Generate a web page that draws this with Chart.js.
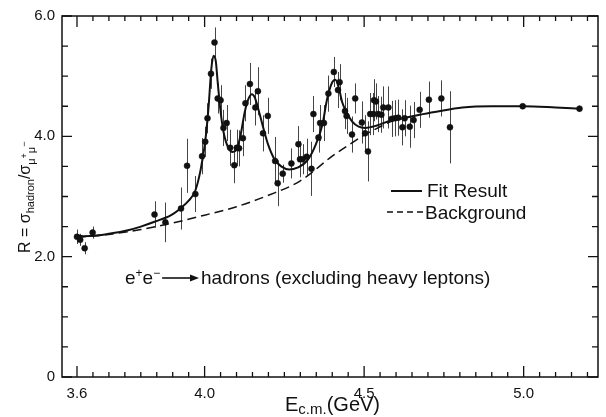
<!DOCTYPE html>
<html>
<head>
  <title>R ratio vs E c.m.</title>
  <style>
    html, body { margin: 0; padding: 0; background: #fff; }
    #wrap { width: 606px; height: 417px; }
  </style>
</head>
<body>
  <div id="wrap"><canvas id="rChart" width="606" height="417"></canvas></div>

  <script src="https://cdn.jsdelivr.net/npm/chart.js"></script>
  <script>
    const dataE = [3.600, 3.610, 3.624, 3.649, 3.843, 3.877, 3.926, 3.945, 3.971, 3.992,
                   4.002, 4.009, 4.020, 4.031, 4.041, 4.050, 4.059, 4.069, 4.080, 4.093,
                   4.101, 4.108, 4.120, 4.128, 4.142, 4.159, 4.167, 4.183, 4.198, 4.221,
                   4.229, 4.245, 4.272, 4.294, 4.299, 4.307, 4.320, 4.335, 4.341, 4.357,
                   4.362, 4.374, 4.388, 4.405, 4.418, 4.423, 4.440, 4.445, 4.462, 4.472,
                   4.493, 4.503, 4.512, 4.519, 4.529, 4.531, 4.537, 4.544, 4.554, 4.560,
                   4.576, 4.586, 4.597, 4.607, 4.620, 4.627, 4.643, 4.655, 4.674, 4.703,
                   4.742, 4.769, 4.997, 5.175];
    const dataR = [2.33, 2.28, 2.14, 2.40, 2.70, 2.57, 2.80, 3.51, 3.04, 3.67,
                   3.91, 4.30, 5.04, 5.56, 4.63, 4.60, 4.14, 4.22, 3.81, 3.52,
                   3.81, 3.80, 3.97, 4.55, 4.87, 4.48, 4.75, 4.05, 4.34, 3.59,
                   3.22, 3.38, 3.55, 3.87, 3.62, 3.62, 3.66, 3.46, 4.37, 3.98,
                   4.22, 4.22, 4.71, 5.07, 4.77, 4.90, 4.42, 4.34, 4.03, 4.63,
                   4.23, 4.05, 3.75, 4.37, 4.37, 4.60, 4.58, 4.37, 4.36, 4.48,
                   4.48, 4.29, 4.30, 4.31, 4.15, 4.30, 4.16, 4.27, 4.44, 4.61,
                   4.63, 4.15, 4.50, 4.46];
    const dataErr = [0.12, 0.10, 0.10, 0.10, 0.22, 0.33, 0.35, 0.45, 0.30, 0.30,
                     0.25, 0.25, 0.25, 0.25, 0.25, 0.25, 0.30, 0.30, 0.30, 0.30,
                     0.30, 0.30, 0.30, 0.30, 0.35, 0.30, 0.40, 0.30, 0.30, 0.40,
                     0.38, 0.15, 0.25, 0.30, 0.30, 0.25, 0.30, 0.45, 0.30, 0.25,
                     0.30, 0.30, 0.30, 0.25, 0.30, 0.30, 0.30, 0.30, 0.30, 0.25,
                     0.35, 0.30, 0.50, 0.35, 0.35, 0.35, 0.30, 0.30, 0.30, 0.35,
                     0.35, 0.30, 0.30, 0.30, 0.30, 0.30, 0.35, 0.30, 0.30, 0.30,
                     0.30, 0.60, 0.03, 0.05];

    // fit result curve
    const fitE = [3.595, 3.62, 3.66, 3.70, 3.76, 3.80, 3.843, 3.895, 3.926, 3.95,
                  3.971, 3.987, 4.002, 4.012, 4.021, 4.028, 4.035, 4.041, 4.049, 4.059,
                  4.074, 4.088, 4.100, 4.112, 4.126, 4.138, 4.148, 4.157, 4.167, 4.183,
                  4.198, 4.219, 4.240, 4.265, 4.291, 4.322, 4.348, 4.369, 4.384, 4.400,
                  4.410, 4.421, 4.431, 4.447, 4.462, 4.483, 4.503, 4.540, 4.581, 4.622,
                  4.674, 4.726, 4.808, 4.90, 5.00, 5.10, 5.175];
    const fitR = [2.36, 2.34, 2.35, 2.38, 2.44, 2.50, 2.58, 2.69, 2.81, 2.93,
                  3.10, 3.43, 3.92, 4.46, 5.12, 5.34, 5.25, 4.90, 4.46, 4.08,
                  3.81, 3.74, 3.78, 4.00, 4.41, 4.63, 4.70, 4.65, 4.48, 4.16,
                  3.88, 3.62, 3.50, 3.45, 3.48, 3.60, 3.86, 4.19, 4.62, 4.90,
                  4.94, 4.80, 4.57, 4.38, 4.25, 4.16, 4.14, 4.18, 4.26, 4.30,
                  4.36, 4.41, 4.48, 4.50, 4.50, 4.48, 4.46];

    // background curve
    const bgE = [3.60, 3.70, 3.80, 3.90, 4.00, 4.10, 4.20, 4.30, 4.40, 4.45, 4.50, 4.55, 4.60];
    const bgR = [2.32, 2.37, 2.45, 2.56, 2.69, 2.83, 3.02, 3.26, 3.67, 3.85, 4.02, 4.16, 4.29];

    const xTickLabels = [3.6, 4.0, 4.5, 5.0];
    const yTickLabels = [0, 2.0, 4.0, 6.0];

    const INK = '#111';
    const FONT = "'Liberation Sans', Arial, sans-serif";

    // frame with inward ticks on all four sides
    const frameTicks = {
      id: 'frameTicks',
      afterDraw(chart) {
        const { ctx, chartArea: a, scales: { x, y } } = chart;
        ctx.save();
        ctx.strokeStyle = INK;
        ctx.lineWidth = 1.5;
        ctx.strokeRect(a.left, a.top, a.right - a.left, a.bottom - a.top);
        ctx.lineWidth = 1.3;
        ctx.beginPath();
        for (let v = 3.55; v <= 5.24; v += 0.05) {
          const val = Math.round(v * 100) / 100;
          const px = x.getPixelForValue(val);
          if (px < a.left || px > a.right) continue;
          const major = xTickLabels.some(t => Math.abs(t - val) < 1e-6);
          const len = major ? 11 : 5;
          ctx.moveTo(px, a.bottom); ctx.lineTo(px, a.bottom - len);
          ctx.moveTo(px, a.top); ctx.lineTo(px, a.top + len);
        }
        for (let v = 0; v <= 6.001; v += 0.5) {
          const py = y.getPixelForValue(v);
          const major = Math.abs(v % 2) < 1e-6;
          const len = major ? 10 : 6;
          ctx.moveTo(a.left, py); ctx.lineTo(a.left + len, py);
          ctx.moveTo(a.right, py); ctx.lineTo(a.right - len, py);
        }
        ctx.stroke();
        ctx.restore();
      }
    };

    // vertical error bars for the measured points
    const errorBars = {
      id: 'errorBars',
      beforeDatasetsDraw(chart) {
        const { ctx, scales: { x, y } } = chart;
        ctx.save();
        ctx.strokeStyle = '#444';
        ctx.lineWidth = 1;
        ctx.beginPath();
        dataE.forEach((e, i) => {
          const px = Math.round(x.getPixelForValue(e)) + 0.5;
          ctx.moveTo(px, y.getPixelForValue(dataR[i] - dataErr[i]));
          ctx.lineTo(px, y.getPixelForValue(dataR[i] + dataErr[i]));
        });
        ctx.stroke();
        ctx.restore();
      }
    };

    // helper: draws a run of text pieces with size / baseline shift
    function drawRun(ctx, x, y, parts) {
      let cx = x;
      parts.forEach(p => {
        ctx.font = p.size + 'px ' + FONT;
        ctx.fillText(p.t, cx, y + (p.dy || 0));
        cx += ctx.measureText(p.t).width + (p.gap || 0);
      });
      return cx;
    }

    const textLayer = {
      id: 'textLayer',
      afterDraw(chart) {
        const { ctx } = chart;
        ctx.save();
        ctx.fillStyle = INK;
        ctx.strokeStyle = INK;
        ctx.textBaseline = 'alphabetic';
        ctx.textAlign = 'left';

        // legend
        ctx.lineWidth = 2;
        ctx.beginPath(); ctx.moveTo(391, 191); ctx.lineTo(422, 191); ctx.stroke();
        ctx.lineWidth = 1.5;
        ctx.setLineDash([6, 4]);
        ctx.beginPath(); ctx.moveTo(387, 212); ctx.lineTo(423, 212); ctx.stroke();
        ctx.setLineDash([]);
        drawRun(ctx, 427, 197, [{ t: 'Fit Result', size: 19 }]);
        drawRun(ctx, 425, 219, [{ t: 'Background', size: 19 }]);

        // reaction label
        let cx = drawRun(ctx, 125, 284, [
          { t: 'e', size: 19 }, { t: '+', size: 12, dy: -7 },
          { t: 'e', size: 19 }, { t: '\u2212', size: 12, dy: -7 }
        ]);
        ctx.lineWidth = 1.6;
        ctx.beginPath(); ctx.moveTo(cx + 2, 278); ctx.lineTo(193, 278); ctx.stroke();
        ctx.beginPath(); ctx.moveTo(199, 278); ctx.lineTo(190, 274.5); ctx.lineTo(190, 281.5); ctx.closePath(); ctx.fill();
        drawRun(ctx, 201, 284, [{ t: 'hadrons (excluding heavy leptons)', size: 19 }]);

        // x axis title
        drawRun(ctx, 285, 411, [
          { t: 'E', size: 20 }, { t: 'c.m.', size: 15, dy: 3 }, { t: '(GeV)', size: 20 }
        ]);

        // y axis title (rotated)
        ctx.translate(30, 253);
        ctx.rotate(-Math.PI / 2);
        drawRun(ctx, 0, 0, [
          { t: 'R = \u03c3', size: 16 }, { t: 'hadron', size: 11, dy: 4 },
          { t: '/\u03c3', size: 16 }, { t: '\u03bc', size: 11, dy: 5 },
          { t: '+', size: 9, dy: -3 }, { t: '\u03bc', size: 11, dy: 5 },
          { t: '\u2212', size: 9, dy: -3 }
        ]);
        ctx.restore();
      }
    };

    new Chart(document.getElementById('rChart'), {
      type: 'scatter',
      data: {
        datasets: [
          {
            label: 'Data',
            data: dataE.map((e, i) => ({ x: e, y: dataR[i] })),
            pointRadius: 3,
            pointBackgroundColor: INK,
            pointBorderColor: INK,
            pointBorderWidth: 0.5,
            order: 0
          },
          {
            label: 'Fit Result',
            type: 'line',
            data: fitE.map((e, i) => ({ x: e, y: fitR[i] })),
            borderColor: INK,
            borderWidth: 2,
            pointRadius: 0,
            fill: false,
            cubicInterpolationMode: 'monotone',
            order: 1
          },
          {
            label: 'Background',
            type: 'line',
            data: bgE.map((e, i) => ({ x: e, y: bgR[i] })),
            borderColor: INK,
            borderWidth: 1.5,
            borderDash: [9, 5],
            pointRadius: 0,
            fill: false,
            cubicInterpolationMode: 'monotone',
            order: 2
          }
        ]
      },
      options: {
        responsive: false,
        animation: false,
        devicePixelRatio: 1,
        layout: { padding: { top: 13, right: 8, left: 0, bottom: 0 } },
        plugins: {
          legend: { display: false },
          tooltip: { enabled: false }
        },
        scales: {
          x: {
            type: 'linear',
            min: 3.553,
            max: 5.233,
            afterBuildTicks: s => { s.ticks = xTickLabels.map(v => ({ value: v })); },
            afterFit: s => { s.height = 40; },
            grid: { display: false, drawTicks: false },
            border: { display: false },
            ticks: {
              callback: v => v.toFixed(1),
              color: INK,
              font: { family: FONT, size: 15 },
              padding: 8,
              maxRotation: 0,
              autoSkip: false
            }
          },
          y: {
            min: 0,
            max: 6,
            afterBuildTicks: s => { s.ticks = yTickLabels.map(v => ({ value: v })); },
            afterFit: s => { s.width = 62; },
            grid: { display: false, drawTicks: false },
            border: { display: false },
            ticks: {
              callback: v => v === 0 ? '0' : v.toFixed(1),
              color: INK,
              font: { family: FONT, size: 15 },
              padding: 7
            }
          }
        }
      },
      plugins: [errorBars, frameTicks, textLayer]
    });
  </script>
</body>
</html>
